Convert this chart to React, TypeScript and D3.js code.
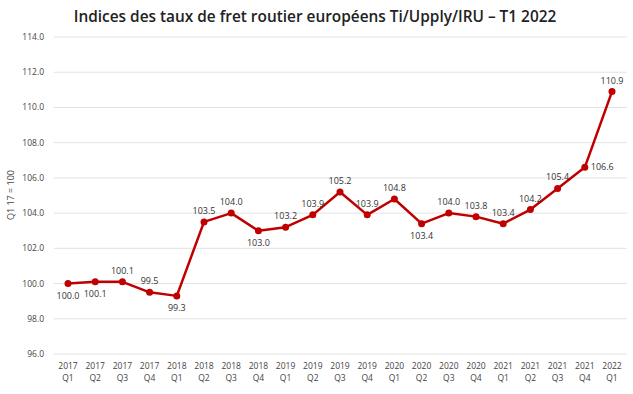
import React, { useRef, useEffect } from "react";
import * as d3 from "d3";

const years = ["2017", "2017", "2017", "2017", "2018", "2018", "2018", "2018", "2019", "2019", "2019", "2019", "2020", "2020", "2020", "2020", "2021", "2021", "2021", "2021", "2022"];
const quarters = ["Q1", "Q2", "Q3", "Q4", "Q1", "Q2", "Q3", "Q4", "Q1", "Q2", "Q3", "Q4", "Q1", "Q2", "Q3", "Q4", "Q1", "Q2", "Q3", "Q4", "Q1"];
const values = [100.0, 100.1, 100.1, 99.5, 99.3, 103.5, 104.0, 103.0, 103.2, 103.9, 105.2, 103.9, 104.8, 103.4, 104.0, 103.8, 103.4, 104.2, 105.4, 106.6, 110.9];
// where each data label sits relative to its point
const labelPos = ["below", "below", "above", "above", "below", "above", "above", "below", "above", "above", "above", "above", "above", "below", "above", "above", "above", "above", "above", "right", "above"];
const yTicks = [96, 98, 100, 102, 104, 106, 108, 110, 112, 114];

const W = 633;
const H = 394;
const RED = "#C00000";

const App = () => {
  const ref = useRef<SVGSVGElement>(null);

  useEffect(() => {
    const svg = d3.select(ref.current);
    svg.selectAll("*").remove();

    const cats = years.map((y, i) => `${y} ${quarters[i]}`);
    const x = d3.scalePoint<string>().domain(cats).range([68, 612]);
    const y = d3.scaleLinear().domain([96, 114]).range([354, 37]);

    svg
      .append("text")
      .attr("x", 315)
      .attr("y", 22)
      .attr("text-anchor", "middle")
      .style("font-family", "'Open Sans', sans-serif")
      .style("font-size", "15.4px")
      .style("font-weight", 600)
      .style("fill", "#222")
      .text("Indices des taux de fret routier européens Ti/Upply/IRU – T1 2022");

    // grid + y labels
    svg
      .append("g")
      .selectAll("line")
      .data(yTicks)
      .enter()
      .append("line")
      .attr("x1", 54)
      .attr("x2", 627)
      .attr("y1", (d) => y(d))
      .attr("y2", (d) => y(d))
      .attr("stroke", "#e2e2e2")
      .attr("stroke-width", 1);

    svg
      .append("g")
      .selectAll("text")
      .data(yTicks)
      .enter()
      .append("text")
      .attr("x", 44)
      .attr("y", (d) => y(d) + 3)
      .attr("text-anchor", "end")
      .style("font-family", "'Open Sans', sans-serif")
      .style("font-size", "8.5px")
      .style("fill", "#444")
      .text((d) => d.toFixed(1));

    svg
      .append("text")
      .attr("transform", "translate(14, 195) rotate(-90)")
      .attr("text-anchor", "middle")
      .style("font-family", "'Open Sans', sans-serif")
      .style("font-size", "9px")
      .style("fill", "#444")
      .text("Q1 17 = 100");

    // x labels: year and quarter as two separate texts
    const xg = svg.append("g");
    xg.selectAll("text.yr")
      .data(cats)
      .enter()
      .append("text")
      .attr("class", "yr")
      .attr("x", (d) => x(d)!)
      .attr("y", 369)
      .attr("text-anchor", "middle")
      .style("font-family", "'Open Sans', sans-serif")
      .style("font-size", "8.5px")
      .style("fill", "#444")
      .text((d, i) => years[i]);
    xg.selectAll("text.qt")
      .data(cats)
      .enter()
      .append("text")
      .attr("class", "qt")
      .attr("x", (d) => x(d)!)
      .attr("y", 381)
      .attr("text-anchor", "middle")
      .style("font-family", "'Open Sans', sans-serif")
      .style("font-size", "8.5px")
      .style("fill", "#444")
      .text((d, i) => quarters[i]);

    const line = d3
      .line<number>()
      .x((d, i) => x(cats[i])!)
      .y((d) => y(d));

    svg
      .append("path")
      .datum(values)
      .attr("d", line)
      .attr("fill", "none")
      .attr("stroke", RED)
      .attr("stroke-width", 2.5)
      .attr("stroke-linejoin", "round");

    svg
      .append("g")
      .selectAll("circle")
      .data(values)
      .enter()
      .append("circle")
      .attr("cx", (d, i) => x(cats[i])!)
      .attr("cy", (d) => y(d))
      .attr("r", 3.5)
      .attr("fill", RED);

    svg
      .append("g")
      .selectAll("text")
      .data(values)
      .enter()
      .append("text")
      .attr("x", (d, i) => x(cats[i])! + (labelPos[i] === "right" ? 6 : 0))
      .attr("y", (d, i) =>
        labelPos[i] === "above" ? y(d) - 8 : labelPos[i] === "below" ? y(d) + 15 : y(d) + 3
      )
      .attr("text-anchor", (d, i) => (labelPos[i] === "right" ? "start" : "middle"))
      .style("font-family", "'Open Sans', sans-serif")
      .style("font-size", "9px")
      .style("fill", "#333")
      .text((d) => d.toFixed(1));
  }, []);

  return <svg ref={ref} width={W} height={H} style={{ display: "block", position: "absolute", left: 0, top: 0 }}></svg>;
};

export default App;
